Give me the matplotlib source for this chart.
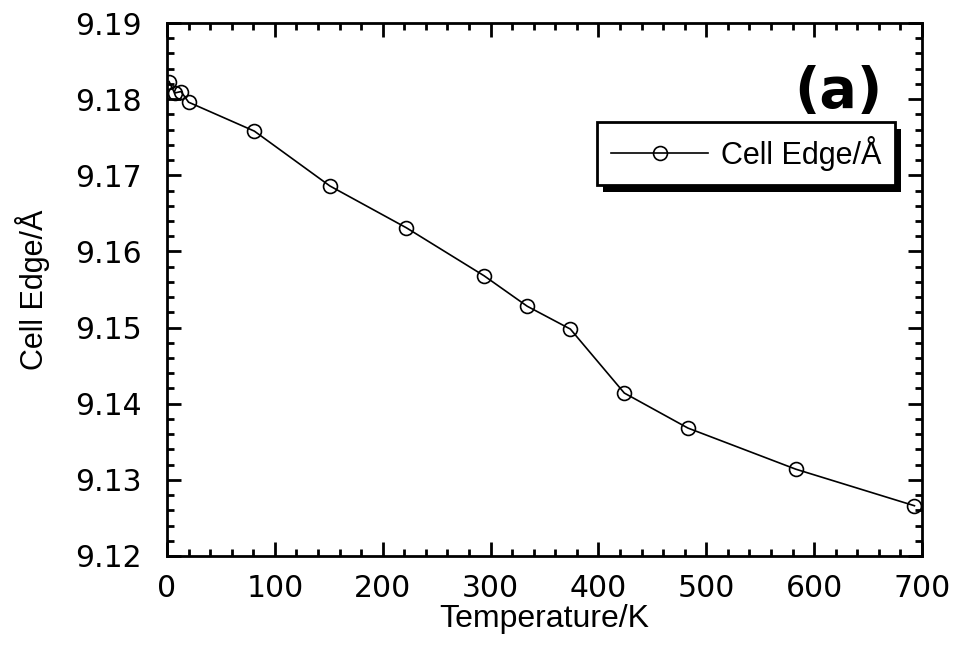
import matplotlib
matplotlib.use("Agg")
import matplotlib.pyplot as plt
from matplotlib.patches import Rectangle
from matplotlib.ticker import MultipleLocator

# data
temperature = [2, 7, 13, 20, 81, 151, 222, 294, 334, 374, 424, 483, 583, 693]
cell_edge = [9.1823, 9.1808, 9.1810, 9.1796, 9.1758, 9.1686, 9.1631, 9.1568,
             9.1528, 9.1498, 9.1414, 9.1368, 9.1314, 9.1266]
x_ticks = [0, 100, 200, 300, 400, 500, 600, 700]
y_ticks = [9.12, 9.13, 9.14, 9.15, 9.16, 9.17, 9.18, 9.19]

label_font = ["Liberation Sans", "DejaVu Sans"]

fig = plt.figure(figsize=(9.62, 6.48), dpi=100)
ax = fig.add_axes([0.1736, 0.142, 0.7848, 0.8225])

ax.plot(temperature, cell_edge, color="black", linewidth=1.2,
        marker="o", markersize=10, markerfacecolor="none",
        markeredgecolor="black", markeredgewidth=1.2, label="Cell Edge/Å")

ax.set_xlim(0, 700)
ax.set_ylim(9.12, 9.19)
ax.set_xticks(x_ticks)
ax.set_yticks(y_ticks)
ax.set_yticklabels([f"{v:.2f}" for v in y_ticks])
ax.xaxis.set_minor_locator(MultipleLocator(20))
ax.yaxis.set_minor_locator(MultipleLocator(0.002))

ax.tick_params(which="both", direction="in", top=True, right=True, width=2)
ax.tick_params(which="major", length=10, labelsize=21.5)
ax.tick_params(axis="x", which="major", pad=13)
ax.tick_params(axis="y", which="major", pad=18)
ax.tick_params(which="minor", length=5)
for lab in ax.get_xticklabels() + ax.get_yticklabels():
    lab.set_family("DejaVu Sans")
for sp in ax.spines.values():
    sp.set_linewidth(2)

ax.set_xlabel("Temperature/K", fontsize=23, family=label_font, labelpad=1)
ax.set_ylabel("Cell Edge/Å", fontsize=22, family=label_font, labelpad=18)

ax.text(0.889, 0.870, "(a)", transform=ax.transAxes, fontsize=40,
        fontweight="bold", ha="center", va="center", family="DejaVu Sans")

leg = ax.legend(loc="upper right", bbox_to_anchor=(0.964, 0.814),
                prop={"family": label_font, "size": 22},
                handlelength=3.2, handletextpad=0.4, borderpad=0.45,
                fancybox=False, framealpha=1, borderaxespad=0)
leg.get_frame().set_edgecolor("black")
leg.get_frame().set_linewidth(2)
leg.set_zorder(10)

# solid drop shadow under the legend box
fig.canvas.draw()
bb = leg.get_window_extent()
shadow = Rectangle((bb.x0 + 6, bb.y0 - 7), bb.width, bb.height,
                   transform=None, facecolor="black", edgecolor="none",
                   zorder=9)
ax.add_artist(shadow)

fig.savefig("out.png", dpi=100)
